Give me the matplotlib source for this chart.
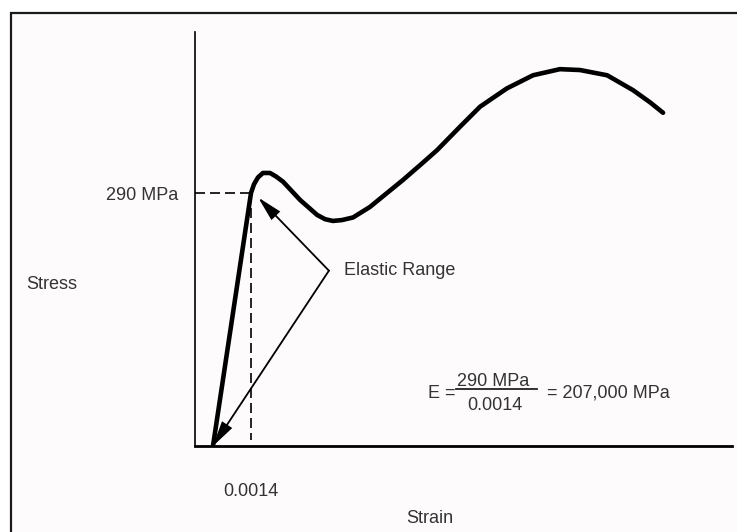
import matplotlib.pyplot as plt
from matplotlib.patches import FancyArrowPatch, Rectangle
from matplotlib.lines import Line2D

plt.rcParams['font.family'] = ['Liberation Sans', 'DejaVu Sans']

# stress-strain curve
strain = [0, 0.0014, 0.00151, 0.00166, 0.00184, 0.00210, 0.00232, 0.00258, 0.00291,
          0.00321, 0.00354, 0.00383, 0.00413, 0.00442, 0.00475, 0.00516, 0.00578,
          0.00637, 0.00700, 0.00763, 0.00825, 0.00910, 0.00984, 0.01083, 0.01179,
          0.01278, 0.01352, 0.01452, 0.01547, 0.01610, 0.01658]
stress = [0, 290, 300, 308, 313, 313, 309, 303, 292, 282, 273, 265, 260, 258, 259,
          262, 274, 289, 305, 322, 339, 366, 389, 410, 425, 432, 431, 425, 408, 394, 382]

yield_strain = 0.0014
yield_stress = 290
modulus = 207000
arrow_apex = (0.00427, 201)
arrow_tips = [(0.00166, 285), (0.0, 0)]

xtick_labels = ["0.0014"]
ytick_labels = ["290 MPa"]

W, H = 737, 532
fig = plt.figure(figsize=(W / 100, H / 100), dpi=100)
fig.patch.set_facecolor('white')

# outer frame, cut off at right and bottom
fig.patches.append(Rectangle((11 / W, -0.1), 1.2, 1 - 13 / H + 0.1, transform=fig.transFigure,
                             facecolor='#fdfbfc', edgecolor='#1a1a1a', lw=1.6, zorder=-5))

ax = fig.add_axes([195 / W, 1 - 446 / H, (732 - 195) / W, (446 - 32) / H])
ax.set_facecolor('none')
ax.set_zorder(2)
ax.set_xlim(-0.000663, 0.01912)
ax.set_ylim(0, 474.6)
for s in ['top', 'right']:
    ax.spines[s].set_visible(False)
ax.spines['left'].set_linewidth(1.2)
ax.spines['bottom'].set_linewidth(2.0)

txt = '#333333'
ax.set_xticks([yield_strain], xtick_labels)
ax.set_yticks([yield_stress], ytick_labels)
ax.tick_params(axis='x', length=0, pad=27, labelsize=13, labelcolor=txt)
ax.tick_params(axis='y', length=0, pad=12, labelsize=13, labelcolor=txt)

ax.set_xlabel("Strain", fontsize=13, color=txt, va='center')
ax.xaxis.set_label_coords(0.4376, -0.174)
ax.set_ylabel("Stress", fontsize=13, color=txt, rotation=0, ha='center', va='center')
ax.yaxis.set_label_coords(-0.2663, 0.391)

ax.plot(strain, stress, color='black', lw=3.3, solid_joinstyle='round', solid_capstyle='round')

ax.plot([ax.get_xlim()[0], yield_strain], [yield_stress, yield_stress],
        color='black', lw=1.2, dashes=(6, 3))
ax.plot([yield_strain, yield_strain], [yield_stress, 7], color='black', lw=1.2, dashes=(6, 3))

for tip in arrow_tips:
    ax.add_patch(FancyArrowPatch(arrow_apex, tip, arrowstyle='-|>,head_length=1.0,head_width=0.24',
                                 mutation_scale=15, color='black', lw=1.3,
                                 shrinkA=0, shrinkB=0, joinstyle='miter'))
ax.annotate("Elastic Range", xy=arrow_apex, xytext=(15, 0), textcoords='offset pixels',
            fontsize=13, color=txt, ha='left', va='center')

# E = 290 MPa / 0.0014 = 207,000 MPa
fig.text(455 / W, 1 - 393 / H, "E =", fontsize=13, color=txt, ha='right', va='center')
fig.text(493 / W, 1 - 382 / H, f"{yield_stress} MPa", fontsize=13, color=txt, ha='center', va='center')
fig.lines.append(Line2D([456 / W, 537 / W], [1 - 389 / H, 1 - 389 / H], transform=fig.transFigure,
                        color='#222222', lw=1.3))
fig.text(495 / W, 1 - 406 / H, f"{yield_strain}", fontsize=13, color=txt, ha='center', va='center')
fig.text(547 / W, 1 - 393 / H, f"= {modulus:,} MPa", fontsize=13, color=txt, ha='left', va='center')

fig.savefig("out.png", dpi=100, facecolor=fig.get_facecolor())
